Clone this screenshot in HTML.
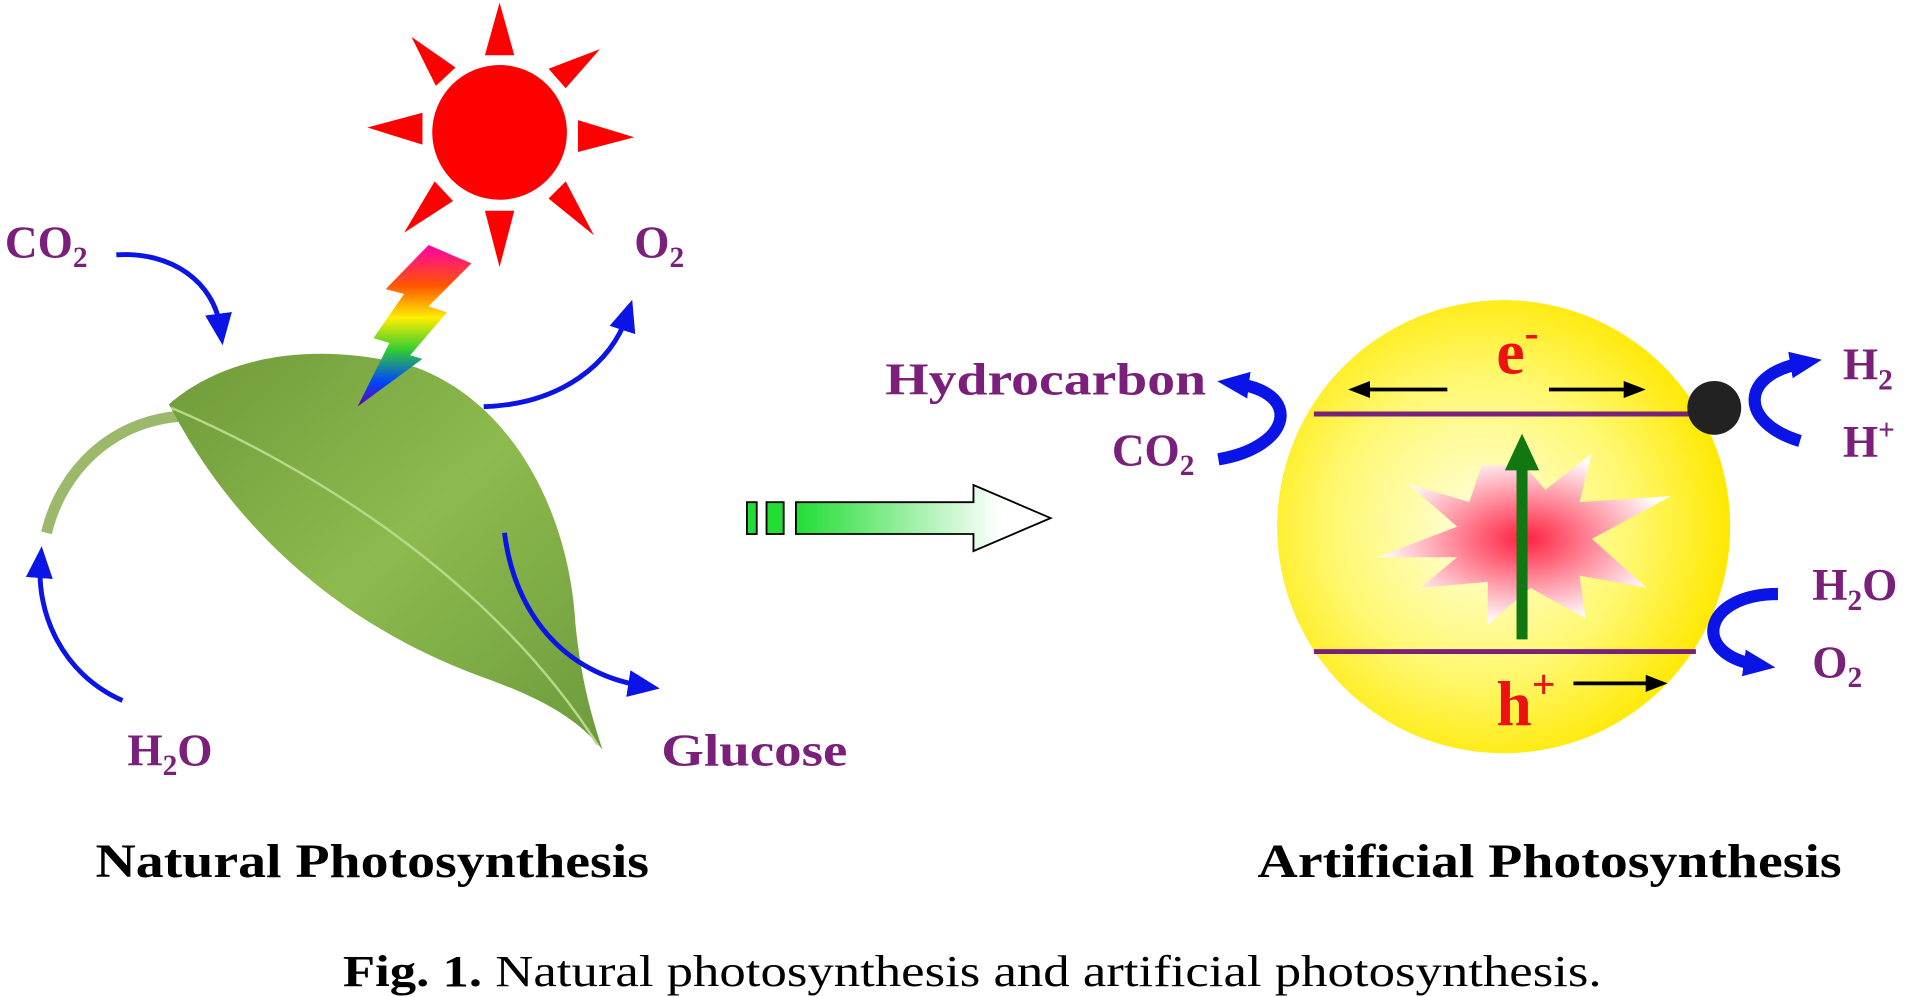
<!DOCTYPE html>
<html><head><meta charset="utf-8"><style>
html,body{margin:0;padding:0;background:#fff;}
svg{display:block;}
.lbl{font-family:"Liberation Serif",serif;font-weight:bold;fill:#7a1f7a;font-size:37px;}
.ttl{font-family:"Liberation Serif",serif;font-weight:bold;fill:#000;font-size:39px;}
</style></head><body>
<svg width="1920" height="997" viewBox="0 0 1568 814" xmlns="http://www.w3.org/2000/svg">
<defs>
<radialGradient id="yel" cx="0.45" cy="0.5" r="0.55"><stop offset="0" stop-color="#ffffe0"/><stop offset="0.6" stop-color="#fff870"/><stop offset="1" stop-color="#ffe800"/></radialGradient>
<linearGradient id="rain" x1="0" y1="0" x2="0" y2="1"><stop offset="0" stop-color="#ff00aa"/><stop offset="0.25" stop-color="#ff5500"/><stop offset="0.45" stop-color="#ffee00"/><stop offset="0.65" stop-color="#33cc33"/><stop offset="0.85" stop-color="#0044ff"/><stop offset="1" stop-color="#6600aa"/></linearGradient>
<linearGradient id="garr" x1="0" y1="0" x2="1" y2="0"><stop offset="0" stop-color="#22dd33"/><stop offset="0.8" stop-color="#ffffff"/></linearGradient>
<radialGradient id="burst"><stop offset="0" stop-color="#ff2040"/><stop offset="1" stop-color="#ffffff"/></radialGradient>
<linearGradient id="leafg" x1="0" y1="0" x2="1" y2="1"><stop offset="0" stop-color="#6f9a3a"/><stop offset="0.5" stop-color="#8dbb4e"/><stop offset="1" stop-color="#6d9a3c"/></linearGradient>
<marker id="bh" markerUnits="userSpaceOnUse" markerWidth="30" markerHeight="30" refX="12" refY="15" orient="auto"><path d="M0,4 L26,15 L0,26 z" fill="#0a14e6"/></marker>
<marker id="kh" markerUnits="userSpaceOnUse" markerWidth="18" markerHeight="14" refX="14" refY="7" orient="auto"><path d="M0,0 L18,7 L0,14 z" fill="#000"/></marker>
<marker id="gh" markerUnits="userSpaceOnUse" markerWidth="30" markerHeight="34" refX="4" refY="14" orient="auto"><path d="M0,0 L30,14 L0,28 z" fill="#117711"/></marker>
</defs>
<g fill="#ff0000">
<circle cx="408" cy="108" r="55"/>
<polygon points="408,2 396,45 420,45"/>
<polygon points="408,218 396,172 420,172"/>
<polygon points="300,104 345,92 345,118"/>
<polygon points="518,112 472,98 472,124"/>
<polygon points="336,30 372,55 356,70"/>
<polygon points="490,40 462,72 448,56"/>
<polygon points="330,190 355,148 370,164"/>
<polygon points="485,192 448,162 462,148"/>
</g>
<g>
<path d="M38,435 C50,385 90,345 145,340" stroke="#9cb86a" stroke-width="9" fill="none"/>
<path d="M138,330 C190,285 270,280 340,300 C420,330 465,420 470,510 C475,560 485,590 492,612 C470,585 440,570 400,555 C300,520 200,450 138,330 Z" fill="url(#leafg)"/>
<path d="M140,333 C250,380 400,470 488,608" stroke="#b8d88a" stroke-width="2" fill="none"/>
</g>
<polygon fill="url(#rain)" points="350,200 385,215 350,250 365,255 335,290 345,293 292,332 318,280 305,276 330,240 315,236"/>
<g stroke="#0a14e6" stroke-width="4" fill="none" marker-end="url(#bh)">
<path d="M95,208 C140,205 175,230 180,268"/>
<path d="M395,332 C460,330 500,295 512,258"/>
<path d="M100,572 C50,550 30,500 33,460"/>
<path d="M412,435 C420,500 460,550 525,560"/>
</g>
<text class="lbl" x="4" y="210">CO<tspan font-size="24" dy="8">2</tspan></text>
<text class="lbl" x="518" y="210">O<tspan font-size="24" dy="8">2</tspan></text>
<text class="lbl" x="104" y="625">H<tspan font-size="24" dy="8">2</tspan><tspan dy="-8">O</tspan></text>
<text class="lbl" x="540" y="625" textLength="152" lengthAdjust="spacingAndGlyphs">Glucose</text>
<g>
<rect x="610" y="410" width="8" height="26" fill="#22dd33" stroke="#000" stroke-width="1.5"/>
<rect x="626" y="410" width="14" height="26" fill="#22dd33" stroke="#000" stroke-width="1.5"/>
<path d="M650,410 L795,410 L795,396 L858,423 L795,450 L795,436 L650,436 Z" fill="url(#garr)" stroke="#000" stroke-width="1.5"/>
</g>
<circle cx="1228" cy="430" r="185" fill="url(#yel)"/>
<polygon fill="url(#burst)" points="1245,380 1262,400 1300,370 1290,410 1365,405 1300,440 1345,480 1290,470 1295,505 1250,480 1215,510 1215,475 1160,480 1190,455 1125,455 1190,430 1150,395 1200,410 1210,380"/>
<line x1="1073" y1="338" x2="1400" y2="338" stroke="#7a1f7a" stroke-width="4"/>
<line x1="1073" y1="532" x2="1385" y2="532" stroke="#7a1f7a" stroke-width="4"/>
<circle cx="1400" cy="333" r="22" fill="#222"/>
<line x1="1243" y1="522" x2="1243" y2="380" stroke="#117711" stroke-width="9" marker-end="url(#gh)"/>
<g stroke="#000" stroke-width="3" marker-end="url(#kh)">
<line x1="1182" y1="318" x2="1105" y2="318"/>
<line x1="1265" y1="318" x2="1340" y2="318"/>
<line x1="1285" y1="558" x2="1358" y2="558"/>
</g>
<text x="1222" y="305" font-family="Liberation Serif,serif" font-weight="bold" font-size="52" fill="#ee1111">e<tspan dy="-22" font-size="34">-</tspan></text>
<text x="1222" y="592" font-family="Liberation Serif,serif" font-weight="bold" font-size="52" fill="#ee1111">h<tspan dy="-22" font-size="34">+</tspan></text>
<g stroke="#0a14e6" stroke-width="10" fill="none" marker-end="url(#bh)">
<path d="M995,375 C1055,365 1065,320 1008,313"/>
<path d="M1470,360 C1420,345 1420,305 1474,296"/>
<path d="M1452,485 C1390,485 1380,535 1436,543"/>
</g>
<text class="lbl" x="723" y="322" textLength="262" lengthAdjust="spacingAndGlyphs">Hydrocarbon</text>
<text class="lbl" x="908" y="380">CO<tspan font-size="24" dy="8">2</tspan></text>
<text class="lbl" x="1505" y="310">H<tspan font-size="24" dy="8">2</tspan></text>
<text class="lbl" x="1505" y="373">H<tspan font-size="24" dy="-14">+</tspan></text>
<text class="lbl" x="1480" y="490">H<tspan font-size="24" dy="8">2</tspan><tspan dy="-8">O</tspan></text>
<text class="lbl" x="1480" y="553">O<tspan font-size="24" dy="8">2</tspan></text>
<text class="ttl" x="78" y="716" textLength="452" lengthAdjust="spacingAndGlyphs">Natural Photosynthesis</text>
<text class="ttl" x="1027" y="716" textLength="477" lengthAdjust="spacingAndGlyphs">Artificial Photosynthesis</text>
<text x="280" y="805" font-family="Liberation Serif,serif" font-size="36" fill="#000" textLength="1028" lengthAdjust="spacingAndGlyphs"><tspan font-weight="bold">Fig. 1.</tspan> Natural photosynthesis and artificial photosynthesis.</text>
</svg>
</body></html>
